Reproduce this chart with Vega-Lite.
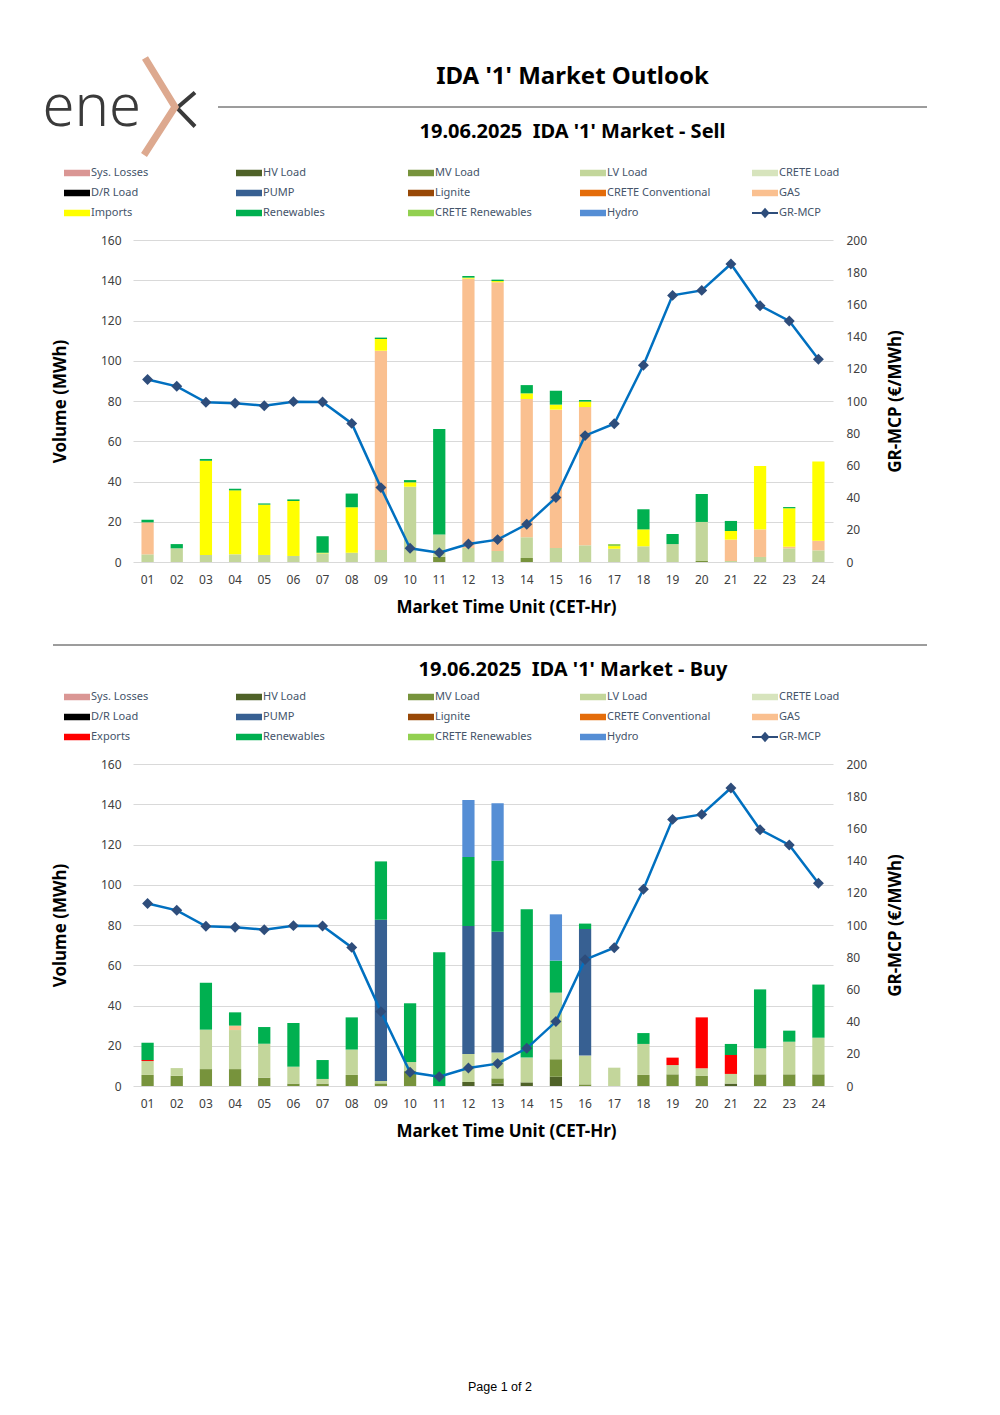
{
  "$schema": "https://vega.github.io/schema/vega-lite/v6.json",
  "autosize": {"type": "none"},
  "padding": {"left": 53, "top": 107, "right": 947, "bottom": 1308},
  "background": "white",
  "bounds": "flush",
  "spacing": 83,
  "config": {
    "view": {"stroke": null},
    "font": "Noto Sans",
    "axis": {"labelFont": "Noto Sans", "titleFont": "Noto Sans", "labelFontSize": 12, "labelColor": "#404040", "labelOverlap": false},
    "legend": {"labelFont": "Noto Sans"},
    "title": {"font": "Noto Sans"}
  },
  "resolve": {"scale": {"x": "independent", "y": "independent", "color": "independent"}, "legend": {"color": "independent"}},
  "datasets": {
    "series": [
      {"series": "Sys. Losses", "rank": 1}, {"series": "HV Load", "rank": 2}, {"series": "MV Load", "rank": 3},
      {"series": "LV Load", "rank": 4}, {"series": "CRETE Load", "rank": 5}, {"series": "D/R Load", "rank": 6},
      {"series": "PUMP", "rank": 7}, {"series": "Lignite", "rank": 8}, {"series": "CRETE Conventional", "rank": 9},
      {"series": "GAS", "rank": 10}, {"series": "Imports", "rank": 11}, {"series": "Exports", "rank": 11},
      {"series": "Renewables", "rank": 12}, {"series": "CRETE Renewables", "rank": 13}, {"series": "Hydro", "rank": 14}
    ],
    "mcp": [
      {"h": "01", "p": 113.3}, {"h": "02", "p": 109.1}, {"h": "03", "p": 99.2}, {"h": "04", "p": 98.6},
      {"h": "05", "p": 97.1}, {"h": "06", "p": 99.6}, {"h": "07", "p": 99.4}, {"h": "08", "p": 86.1},
      {"h": "09", "p": 46.2}, {"h": "10", "p": 8.5}, {"h": "11", "p": 5.8}, {"h": "12", "p": 11.2},
      {"h": "13", "p": 13.9}, {"h": "14", "p": 23.4}, {"h": "15", "p": 40.0}, {"h": "16", "p": 78.5},
      {"h": "17", "p": 85.9}, {"h": "18", "p": 122.2}, {"h": "19", "p": 165.6}, {"h": "20", "p": 168.7},
      {"h": "21", "p": 185.1}, {"h": "22", "p": 159.2}, {"h": "23", "p": 149.7}, {"h": "24", "p": 125.9}
    ],
    "sell": [
      {"h": "01", "series": "LV Load", "v": 3.8}, {"h": "01", "series": "GAS", "v": 15.9}, {"h": "01", "series": "Renewables", "v": 1.3},
      {"h": "02", "series": "LV Load", "v": 6.8}, {"h": "02", "series": "Renewables", "v": 2.1},
      {"h": "03", "series": "LV Load", "v": 3.5}, {"h": "03", "series": "Imports", "v": 46.8}, {"h": "03", "series": "Renewables", "v": 0.9},
      {"h": "04", "series": "LV Load", "v": 3.8}, {"h": "04", "series": "Imports", "v": 31.8}, {"h": "04", "series": "Renewables", "v": 0.8},
      {"h": "05", "series": "LV Load", "v": 3.5}, {"h": "05", "series": "Imports", "v": 25.0}, {"h": "05", "series": "Renewables", "v": 0.6},
      {"h": "06", "series": "LV Load", "v": 3.0}, {"h": "06", "series": "Imports", "v": 27.3}, {"h": "06", "series": "Renewables", "v": 0.8},
      {"h": "07", "series": "LV Load", "v": 4.3}, {"h": "07", "series": "Imports", "v": 0.3}, {"h": "07", "series": "Renewables", "v": 8.2},
      {"h": "08", "series": "LV Load", "v": 4.6}, {"h": "08", "series": "Imports", "v": 22.6}, {"h": "08", "series": "Renewables", "v": 6.8},
      {"h": "09", "series": "LV Load", "v": 6.0}, {"h": "09", "series": "GAS", "v": 99.0}, {"h": "09", "series": "Imports", "v": 5.8}, {"h": "09", "series": "Renewables", "v": 0.7},
      {"h": "10", "series": "LV Load", "v": 37.4}, {"h": "10", "series": "Imports", "v": 2.2}, {"h": "10", "series": "Renewables", "v": 1.1},
      {"h": "11", "series": "MV Load", "v": 2.6}, {"h": "11", "series": "LV Load", "v": 11.1}, {"h": "11", "series": "Renewables", "v": 52.4},
      {"h": "12", "series": "LV Load", "v": 7.0}, {"h": "12", "series": "GAS", "v": 133.8}, {"h": "12", "series": "Imports", "v": 0.5}, {"h": "12", "series": "Renewables", "v": 0.8},
      {"h": "13", "series": "LV Load", "v": 5.5}, {"h": "13", "series": "GAS", "v": 133.5}, {"h": "13", "series": "Imports", "v": 0.6}, {"h": "13", "series": "Renewables", "v": 0.7},
      {"h": "14", "series": "MV Load", "v": 2.0}, {"h": "14", "series": "LV Load", "v": 10.3}, {"h": "14", "series": "GAS", "v": 68.7}, {"h": "14", "series": "Imports", "v": 2.8}, {"h": "14", "series": "Renewables", "v": 4.1},
      {"h": "15", "series": "LV Load", "v": 7.0}, {"h": "15", "series": "GAS", "v": 68.7}, {"h": "15", "series": "Imports", "v": 2.5}, {"h": "15", "series": "Renewables", "v": 6.9},
      {"h": "16", "series": "LV Load", "v": 8.3}, {"h": "16", "series": "GAS", "v": 68.7}, {"h": "16", "series": "Imports", "v": 2.7}, {"h": "16", "series": "Renewables", "v": 0.8},
      {"h": "17", "series": "LV Load", "v": 6.6}, {"h": "17", "series": "Imports", "v": 1.3}, {"h": "17", "series": "CRETE Renewables", "v": 1.0},
      {"h": "18", "series": "LV Load", "v": 7.8}, {"h": "18", "series": "Imports", "v": 8.4}, {"h": "18", "series": "Renewables", "v": 10.0},
      {"h": "19", "series": "LV Load", "v": 8.9}, {"h": "19", "series": "Renewables", "v": 5.0},
      {"h": "20", "series": "MV Load", "v": 0.5}, {"h": "20", "series": "LV Load", "v": 19.4}, {"h": "20", "series": "Renewables", "v": 13.9},
      {"h": "21", "series": "LV Load", "v": 0.5}, {"h": "21", "series": "GAS", "v": 10.6}, {"h": "21", "series": "Imports", "v": 4.3}, {"h": "21", "series": "Renewables", "v": 5.0},
      {"h": "22", "series": "LV Load", "v": 2.5}, {"h": "22", "series": "GAS", "v": 13.7}, {"h": "22", "series": "Imports", "v": 31.5},
      {"h": "23", "series": "LV Load", "v": 6.8}, {"h": "23", "series": "GAS", "v": 0.8}, {"h": "23", "series": "Imports", "v": 19.1}, {"h": "23", "series": "Renewables", "v": 0.6},
      {"h": "24", "series": "LV Load", "v": 5.8}, {"h": "24", "series": "GAS", "v": 4.8}, {"h": "24", "series": "Imports", "v": 39.4}
    ],
    "buy": [
      {"h": "01", "series": "MV Load", "v": 5.5}, {"h": "01", "series": "LV Load", "v": 6.9}, {"h": "01", "series": "Exports", "v": 0.5}, {"h": "01", "series": "Renewables", "v": 8.6},
      {"h": "02", "series": "MV Load", "v": 5.1}, {"h": "02", "series": "LV Load", "v": 3.8},
      {"h": "03", "series": "MV Load", "v": 8.4}, {"h": "03", "series": "LV Load", "v": 19.6}, {"h": "03", "series": "Renewables", "v": 23.3},
      {"h": "04", "series": "MV Load", "v": 8.4}, {"h": "04", "series": "LV Load", "v": 19.4}, {"h": "04", "series": "GAS", "v": 2.2}, {"h": "04", "series": "Renewables", "v": 6.6},
      {"h": "05", "series": "MV Load", "v": 4.1}, {"h": "05", "series": "LV Load", "v": 16.9}, {"h": "05", "series": "Renewables", "v": 8.3},
      {"h": "06", "series": "MV Load", "v": 1.2}, {"h": "06", "series": "LV Load", "v": 8.4}, {"h": "06", "series": "Renewables", "v": 21.7},
      {"h": "07", "series": "MV Load", "v": 1.2}, {"h": "07", "series": "LV Load", "v": 2.3}, {"h": "07", "series": "Renewables", "v": 9.4},
      {"h": "08", "series": "MV Load", "v": 5.5}, {"h": "08", "series": "LV Load", "v": 12.6}, {"h": "08", "series": "Renewables", "v": 16.0},
      {"h": "09", "series": "MV Load", "v": 1.3}, {"h": "09", "series": "LV Load", "v": 1.2}, {"h": "09", "series": "PUMP", "v": 80.1}, {"h": "09", "series": "Renewables", "v": 29.0},
      {"h": "10", "series": "MV Load", "v": 7.4}, {"h": "10", "series": "LV Load", "v": 4.5}, {"h": "10", "series": "Renewables", "v": 29.2},
      {"h": "11", "series": "Renewables", "v": 66.4},
      {"h": "12", "series": "HV Load", "v": 2.0}, {"h": "12", "series": "LV Load", "v": 13.9}, {"h": "12", "series": "PUMP", "v": 63.6}, {"h": "12", "series": "Renewables", "v": 34.3}, {"h": "12", "series": "Hydro", "v": 28.3},
      {"h": "13", "series": "HV Load", "v": 1.3}, {"h": "13", "series": "MV Load", "v": 2.5}, {"h": "13", "series": "LV Load", "v": 12.8}, {"h": "13", "series": "PUMP", "v": 60.1}, {"h": "13", "series": "Renewables", "v": 35.3}, {"h": "13", "series": "Hydro", "v": 28.5},
      {"h": "14", "series": "HV Load", "v": 1.8}, {"h": "14", "series": "LV Load", "v": 12.3}, {"h": "14", "series": "Renewables", "v": 73.7},
      {"h": "15", "series": "HV Load", "v": 4.6}, {"h": "15", "series": "MV Load", "v": 8.7}, {"h": "15", "series": "LV Load", "v": 33.1}, {"h": "15", "series": "Renewables", "v": 15.9}, {"h": "15", "series": "Hydro", "v": 23.0},
      {"h": "16", "series": "MV Load", "v": 0.8}, {"h": "16", "series": "LV Load", "v": 14.3}, {"h": "16", "series": "PUMP", "v": 62.9}, {"h": "16", "series": "Renewables", "v": 2.7},
      {"h": "17", "series": "LV Load", "v": 9.1},
      {"h": "18", "series": "MV Load", "v": 5.5}, {"h": "18", "series": "LV Load", "v": 15.4}, {"h": "18", "series": "Renewables", "v": 5.4},
      {"h": "19", "series": "MV Load", "v": 5.8}, {"h": "19", "series": "LV Load", "v": 4.6}, {"h": "19", "series": "Exports", "v": 3.7},
      {"h": "20", "series": "MV Load", "v": 5.0}, {"h": "20", "series": "LV Load", "v": 3.8}, {"h": "20", "series": "Exports", "v": 25.3},
      {"h": "21", "series": "HV Load", "v": 1.2}, {"h": "21", "series": "LV Load", "v": 4.8}, {"h": "21", "series": "Exports", "v": 9.4}, {"h": "21", "series": "Renewables", "v": 5.5},
      {"h": "22", "series": "MV Load", "v": 5.8}, {"h": "22", "series": "LV Load", "v": 12.9}, {"h": "22", "series": "Renewables", "v": 29.3},
      {"h": "23", "series": "MV Load", "v": 5.8}, {"h": "23", "series": "LV Load", "v": 16.2}, {"h": "23", "series": "Renewables", "v": 5.5},
      {"h": "24", "series": "MV Load", "v": 5.8}, {"h": "24", "series": "LV Load", "v": 18.2}, {"h": "24", "series": "Renewables", "v": 26.4}
    ]
  },
  "vconcat": [
    {
      "width": 874, "height": 50,
      "data": {"values": [{}]},
      "layer": [
        {"mark": {"type": "rule", "color": "#3a3a3a", "strokeWidth": 1},
         "encoding": {
           "x": {"datum": 0, "type": "quantitative", "scale": {"domain": [0, 1], "range": [165, 874]}, "axis": null},
           "x2": {"datum": 1},
           "y": {"datum": 1, "type": "quantitative", "scale": {"domain": [0, 1]}, "axis": null}
         }},
        {"mark": {"type": "text", "text": "IDA '1' Market Outlook", "font": "Noto Sans", "fontSize": 24, "fontWeight": "bold", "color": "#000000", "align": "center", "baseline": "alphabetic", "dy": -23},
         "encoding": {
           "x": {"datum": 0.5, "type": "quantitative", "scale": {"domain": [0, 1], "range": [165, 874]}, "axis": null},
           "y": {"datum": 1, "type": "quantitative", "scale": {"domain": [0, 1]}, "axis": null}
         }},
        {"mark": {"type": "text", "text": "ene", "font": "Noto Sans", "fontSize": 58, "fontWeight": 300, "color": "#3a3a3a", "align": "right", "baseline": "alphabetic", "dx": -77, "dy": 19},
         "encoding": {
           "x": {"datum": 0, "type": "quantitative", "scale": {"domain": [0, 1], "range": [165, 874]}, "axis": null},
           "y": {"datum": 1, "type": "quantitative", "scale": {"domain": [0, 1]}, "axis": null}
         }},
        {"mark": {"type": "point", "shape": "M-0.46,-0.29L-0.82,0.02L-0.46,0.39", "size": 10000, "filled": false, "color": "#3a3a3a", "strokeWidth": 4, "strokeCap": "butt", "opacity": 1},
         "encoding": {
           "x": {"datum": 0, "type": "quantitative", "scale": {"domain": [0, 1], "range": [165, 874]}, "axis": null},
           "y": {"datum": 1, "type": "quantitative", "scale": {"domain": [0, 1]}, "axis": null}
         }},
        {"mark": {"type": "point", "shape": "M-1.46,-0.98L-0.86,0L-1.48,0.96", "size": 10000, "filled": false, "color": "#DDA98F", "strokeWidth": 7, "strokeCap": "butt", "opacity": 1},
         "encoding": {
           "x": {"datum": 0, "type": "quantitative", "scale": {"domain": [0, 1], "range": [165, 874]}, "axis": null},
           "y": {"datum": 1, "type": "quantitative", "scale": {"domain": [0, 1]}, "axis": null}
         }}
      ]
    },
    {
      "width": 780, "height": 322,
      "title": {"text": "19.06.2025\u00a0 IDA '1' Market - Sell", "font": "Noto Sans", "fontSize": 20, "fontWeight": "bold", "color": "#000000", "anchor": "middle", "frame": "group", "dx": 129.5, "offset": 18},
      "layer": [
        {
          "data": {"name": "sell"},
          "transform": [{"lookup": "series", "from": {"data": {"name": "series"}, "key": "series", "fields": ["rank"]}}],
          "mark": {"type": "bar"},
          "encoding": {
            "x": {"field": "h", "type": "ordinal", "scale": {"type": "band", "range": [80, 780], "paddingInner": 0.58, "paddingOuter": 0.29},
                  "axis": {"title": "Market Time Unit (CET-Hr)", "domain": false, "ticks": false, "grid": false, "labelAngle": 0, "labelPadding": 12, "labelFontSize": 12, "labelColor": "#404040",
                           "titleFontSize": 17, "titleFontWeight": "bold", "titleColor": "#000000", "titleX": 453, "titleY": 45, "titleAlign": "center", "titleBaseline": "middle"}},
            "y": {"field": "v", "type": "quantitative", "stack": "zero", "scale": {"domain": [0, 160], "nice": false},
                  "axis": {"title": "Volume (MWh)", "values": [0, 20, 40, 60, 80, 100, 120, 140, 160], "offset": -80, "grid": true, "gridColor": "#D9D9D9", "gridWidth": 1, "domain": false, "ticks": false, "labelPadding": 12,
                           "titleFontSize": 17, "titleFontWeight": "bold", "titleColor": "#000000", "titleX": -73, "titleY": 161, "titleAngle": 270, "titleAlign": "center", "titleBaseline": "middle"}},
            "color": {"field": "series", "type": "nominal",
                      "scale": {"domain": ["Sys. Losses", "HV Load", "MV Load", "LV Load", "CRETE Load", "D/R Load", "PUMP", "Lignite", "CRETE Conventional", "GAS", "Imports", "Renewables", "CRETE Renewables", "Hydro"],
                                "range": ["#DA9694", "#4F6228", "#77933C", "#C3D69B", "#D7E4BD", "#000000", "#376092", "#984807", "#E46C0A", "#FAC090", "#FFFF00", "#00B050", "#92D050", "#558ED5"]},
                      "legend": {"orient": "none", "legendX": 11, "legendY": -80, "columns": 5, "direction": "horizontal", "title": null, "padding": 0,
                                 "symbolType": "M-1,-0.25H1V0.25H-1Z", "symbolSize": 676, "symbolStrokeWidth": 0, "symbolOpacity": 1,
                                 "labelFontSize": 11, "labelColor": "#44546A", "labelOffset": 1, "labelLimit": 300,
                                 "columnPadding": 41, "rowPadding": 2, "gridAlign": "all"}},
            "order": {"field": "rank", "type": "quantitative", "sort": "ascending"}
          }
        },
        {
          "data": {"name": "mcp"},
          "layer": [
            {"mark": {"type": "line", "color": "#0070C0", "strokeWidth": 2.5},
             "encoding": {
               "x": {"field": "h", "type": "ordinal"},
               "y": {"field": "p", "type": "quantitative", "scale": {"domain": [0, 200], "nice": false},
                     "axis": {"orient": "right", "title": "GR-MCP (€/MWh)", "values": [0, 20, 40, 60, 80, 100, 120, 140, 160, 180, 200], "labelOverlap": false, "grid": false, "domain": false, "ticks": false, "labelPadding": 13,
                              "titleFontSize": 17, "titleFontWeight": "bold", "titleColor": "#000000", "titleX": 62, "titleY": 161, "titleAngle": 270, "titleAlign": "center", "titleBaseline": "middle"}}
             }},
            {"mark": {"type": "point", "shape": "diamond", "filled": true, "size": 120, "opacity": 1},
             "encoding": {
               "x": {"field": "h", "type": "ordinal"},
               "y": {"field": "p", "type": "quantitative",
                     "axis": {"orient": "right", "title": "GR-MCP (€/MWh)", "values": [0, 20, 40, 60, 80, 100, 120, 140, 160, 180, 200], "labelOverlap": false, "grid": false, "domain": false, "ticks": false, "labelPadding": 13,
                              "titleFontSize": 17, "titleFontWeight": "bold", "titleColor": "#000000", "titleX": 62, "titleY": 161, "titleAngle": 270, "titleAlign": "center", "titleBaseline": "middle"}},
               "color": {"datum": "GR-MCP", "scale": {"domain": ["GR-MCP"], "range": ["#2E4D7B"]},
                         "legend": {"orient": "none", "legendX": 699, "legendY": -40, "title": null, "padding": 0,
                                    "symbolType": "M-1,-0.08H1V0.08H-1Z M0,-0.4L0.36,0L0,0.4L-0.36,0Z", "symbolSize": 676, "symbolStrokeWidth": 0, "symbolOpacity": 1,
                                    "labelFontSize": 11, "labelColor": "#44546A", "labelOffset": 1}}
             }}
          ]
        }
      ],
      "resolve": {"scale": {"y": "independent", "color": "independent"}, "axis": {"y": "independent"}, "legend": {"color": "independent"}}
    },
    {
      "width": 874, "height": 36,
      "data": {"values": [{}]},
      "mark": {"type": "rule", "color": "#3a3a3a", "strokeWidth": 1},
      "encoding": {"y": {"datum": 1, "type": "quantitative", "scale": {"domain": [0, 1]}, "axis": null}}
    },
    {
      "width": 780, "height": 322,
      "title": {"text": "19.06.2025\u00a0 IDA '1' Market - Buy", "font": "Noto Sans", "fontSize": 20, "fontWeight": "bold", "color": "#000000", "anchor": "middle", "frame": "group", "dx": 130, "offset": 4},
      "layer": [
        {
          "data": {"name": "buy"},
          "transform": [{"lookup": "series", "from": {"data": {"name": "series"}, "key": "series", "fields": ["rank"]}}],
          "mark": {"type": "bar"},
          "encoding": {
            "x": {"field": "h", "type": "ordinal", "scale": {"type": "band", "range": [80, 780], "paddingInner": 0.58, "paddingOuter": 0.29},
                  "axis": {"title": "Market Time Unit (CET-Hr)", "domain": false, "ticks": false, "grid": false, "labelAngle": 0, "labelPadding": 12, "labelFontSize": 12, "labelColor": "#404040",
                           "titleFontSize": 17, "titleFontWeight": "bold", "titleColor": "#000000", "titleX": 453, "titleY": 45, "titleAlign": "center", "titleBaseline": "middle"}},
            "y": {"field": "v", "type": "quantitative", "stack": "zero", "scale": {"domain": [0, 160], "nice": false},
                  "axis": {"title": "Volume (MWh)", "values": [0, 20, 40, 60, 80, 100, 120, 140, 160], "offset": -80, "grid": true, "gridColor": "#D9D9D9", "gridWidth": 1, "domain": false, "ticks": false, "labelPadding": 12,
                           "titleFontSize": 17, "titleFontWeight": "bold", "titleColor": "#000000", "titleX": -73, "titleY": 161, "titleAngle": 270, "titleAlign": "center", "titleBaseline": "middle"}},
            "color": {"field": "series", "type": "nominal",
                      "scale": {"domain": ["Sys. Losses", "HV Load", "MV Load", "LV Load", "CRETE Load", "D/R Load", "PUMP", "Lignite", "CRETE Conventional", "GAS", "Exports", "Renewables", "CRETE Renewables", "Hydro"],
                                "range": ["#DA9694", "#4F6228", "#77933C", "#C3D69B", "#D7E4BD", "#000000", "#376092", "#984807", "#E46C0A", "#FAC090", "#FF0000", "#00B050", "#92D050", "#558ED5"]},
                      "legend": {"orient": "none", "legendX": 11, "legendY": -80, "columns": 5, "direction": "horizontal", "title": null, "padding": 0,
                                 "symbolType": "M-1,-0.25H1V0.25H-1Z", "symbolSize": 676, "symbolStrokeWidth": 0, "symbolOpacity": 1,
                                 "labelFontSize": 11, "labelColor": "#44546A", "labelOffset": 1, "labelLimit": 300,
                                 "columnPadding": 41, "rowPadding": 2, "gridAlign": "all"}},
            "order": {"field": "rank", "type": "quantitative", "sort": "ascending"}
          }
        },
        {
          "data": {"name": "mcp"},
          "layer": [
            {"mark": {"type": "line", "color": "#0070C0", "strokeWidth": 2.5},
             "encoding": {
               "x": {"field": "h", "type": "ordinal"},
               "y": {"field": "p", "type": "quantitative", "scale": {"domain": [0, 200], "nice": false},
                     "axis": {"orient": "right", "title": "GR-MCP (€/MWh)", "values": [0, 20, 40, 60, 80, 100, 120, 140, 160, 180, 200], "labelOverlap": false, "grid": false, "domain": false, "ticks": false, "labelPadding": 13,
                              "titleFontSize": 17, "titleFontWeight": "bold", "titleColor": "#000000", "titleX": 62, "titleY": 161, "titleAngle": 270, "titleAlign": "center", "titleBaseline": "middle"}}
             }},
            {"mark": {"type": "point", "shape": "diamond", "filled": true, "size": 120, "opacity": 1},
             "encoding": {
               "x": {"field": "h", "type": "ordinal"},
               "y": {"field": "p", "type": "quantitative",
                     "axis": {"orient": "right", "title": "GR-MCP (€/MWh)", "values": [0, 20, 40, 60, 80, 100, 120, 140, 160, 180, 200], "labelOverlap": false, "grid": false, "domain": false, "ticks": false, "labelPadding": 13,
                              "titleFontSize": 17, "titleFontWeight": "bold", "titleColor": "#000000", "titleX": 62, "titleY": 161, "titleAngle": 270, "titleAlign": "center", "titleBaseline": "middle"}},
               "color": {"datum": "GR-MCP", "scale": {"domain": ["GR-MCP"], "range": ["#2E4D7B"]},
                         "legend": {"orient": "none", "legendX": 699, "legendY": -40, "title": null, "padding": 0,
                                    "symbolType": "M-1,-0.08H1V0.08H-1Z M0,-0.4L0.36,0L0,0.4L-0.36,0Z", "symbolSize": 676, "symbolStrokeWidth": 0, "symbolOpacity": 1,
                                    "labelFontSize": 11, "labelColor": "#44546A", "labelOffset": 1}}
             }}
          ]
        }
      ],
      "resolve": {"scale": {"y": "independent", "color": "independent"}, "axis": {"y": "independent"}, "legend": {"color": "independent"}}
    },
    {
      "width": 874, "height": 436,
      "data": {"values": [{}]},
      "mark": {"type": "text", "text": "Page 1 of 2", "font": "Liberation Sans", "fontSize": 12.5, "color": "#000000", "dx": 10}
    }
  ]
}
